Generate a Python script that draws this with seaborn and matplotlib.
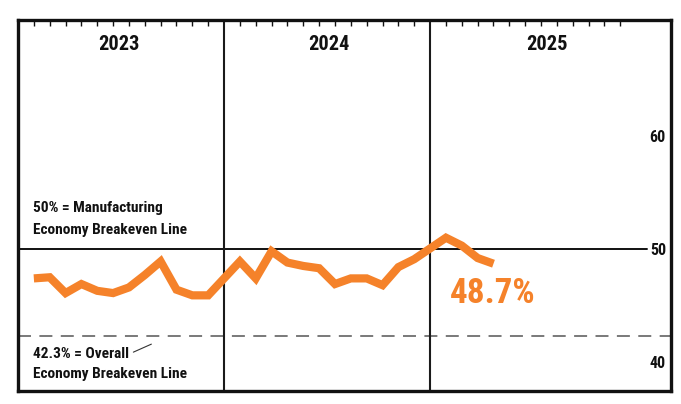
import matplotlib
matplotlib.use("Agg")
import matplotlib.pyplot as plt
from matplotlib import font_manager
from matplotlib.font_manager import FontProperties
from matplotlib.textpath import TextPath
import seaborn as sns
import pandas as pd

# ---------------- data ----------------
years = ["2023", "2024", "2025"]
months_2023 = [47.4, 47.5, 46.1, 46.9, 46.3, 46.1, 46.6, 47.7, 48.9, 46.4, 45.9, 45.9]
months_2024 = [48.9, 47.4, 49.8, 48.8, 48.5, 48.3, 46.9, 47.4, 47.4, 46.8, 48.4, 49.1]
months_2025 = [51.0, 50.3, 49.2, 48.7]
yticks = [40, 50, 60]
mfg_breakeven = 50.0
overall_breakeven = 42.3
mfg_label = ["50% = Manufacturing", "Economy Breakeven Line"]
overall_label = ["42.3% = Overall", "Economy Breakeven Line"]

ORANGE = "#F5822A"
INK = "#111111"

# ---------------- fonts ----------------
sns.set_theme(style="white")
entries = font_manager.fontManager.ttflist


def wnum(w):
    if isinstance(w, (int, float)):
        return w
    return {"bold": 700, "heavy": 800, "black": 900, "extra bold": 800,
            "semibold": 600, "demibold": 600}.get(str(w).lower(), 400)


prefs = ["Roboto Condensed", "Archivo Narrow", "IBM Plex Sans Condensed", "PT Sans Narrow",
         "Fira Sans Condensed", "Barlow Semi Condensed", "Liberation Sans Narrow",
         "Encode Sans Condensed", "Asap Condensed", "Liberation Sans"]
chosen = "DejaVu Sans"
for cand in prefs:
    if any(f.name == cand and wnum(f.weight) >= 600 for f in entries):
        chosen = cand
        break
FAM = [chosen, "DejaVu Sans"]
FONT = dict(family=FAM, weight="bold")
plt.rcParams["font.family"] = FAM

try:
    _tp = TextPath((0, 0), "H", size=100, prop=FontProperties(family=FAM, weight="bold"))
    CAP = _tp.get_extents().height / 100.0
except Exception:
    CAP = 0.72
if not (0.5 < CAP < 0.9):
    CAP = 0.72

# ---------------- build table ----------------
# each year occupies 13 slots: 12 months + a divider slot
rows = []
for yi, (yr, vals) in enumerate(zip(years, [months_2023, months_2024, months_2025])):
    for m, v in enumerate(vals, start=1):
        rows.append({"x": 13 * yi + m, "pmi": v, "year": yr, "month": m})
df = pd.DataFrame(rows)

fig = plt.figure(figsize=(6.81, 4.04), dpi=100)
ax = fig.add_axes([18 / 681, 13.3 / 404, 652.7 / 681, 370.7 / 404])
ax.set_facecolor("white")
renderer = fig.canvas.get_renderer()


def fit(t, target_w_px, target_cap_px):
    w = t.get_window_extent(renderer).width
    fs_w = t.get_fontsize() * target_w_px / w if w > 0 else t.get_fontsize()
    fs_h = target_cap_px / (CAP * 100.0 / 72.0)
    fs = (fs_w * fs_h) ** 0.5
    t.set_fontsize(fs)
    return fs


xmax = 41.18
ax.set_xlim(0, xmax)
ax.set_ylim(37.46, 70.27)

# breakeven lines
ax.axhline(mfg_breakeven, xmin=0, xmax=0.963, color=INK, lw=1.4, zorder=1)
ax.axhline(overall_breakeven, color="#555555", lw=1.1, ls=(0, (8.5, 5.5)), zorder=1)

# year dividers
for yi in range(1, len(years)):
    ax.axvline(13 * yi, color="#1a1a1a", lw=1.5, zorder=1)

# main line
sns.lineplot(data=df, x="x", y="pmi", ax=ax, color=ORANGE, lw=5.9, zorder=3,
             legend=False)
for ln in ax.get_lines()[-1:]:
    ln.set_solid_joinstyle("miter")
    ln.set_solid_capstyle("butt")

# last value label
last = df.iloc[-1]
t_last = ax.text(last["x"] - 2.75, last["pmi"] - 3.5, f"{last['pmi']:.1f}%", color=ORANGE,
                 fontsize=26, ha="left", va="baseline", **FONT)
fit(t_last, 79, 27)

# year labels
year_centers = [6.35, 19.6, 33.4]
ytexts = []
for yr, cx in zip(years, year_centers):
    ytexts.append(ax.text(cx, 68.1, yr, ha="center", va="center", fontsize=15, color=INK, **FONT))
yfs = fit(ytexts[0], 40, 15)
for t in ytexts:
    t.set_fontsize(yfs)

# annotations
a1 = ax.text(0.95, 53.26, mfg_label[0], ha="left", va="baseline", fontsize=11.5, color=INK, **FONT)
a2 = ax.text(0.95, 51.35, mfg_label[1], ha="left", va="baseline", fontsize=11.5, color=INK, **FONT)
a3 = ax.text(0.97, 40.37, overall_label[0], ha="left", va="baseline", fontsize=11.5, color=INK, **FONT)
a4 = ax.text(0.97, 38.6, overall_label[1], ha="left", va="baseline", fontsize=11.5, color=INK, **FONT)
afs = fit(a2, 145, 11.7)
for t in (a1, a3, a4):
    t.set_fontsize(afs)

# short leader line after "Overall" (placed relative to the text's end)
bb = a3.get_window_extent(renderer)
inv = ax.transData.inverted()
x0, y0 = inv.transform((bb.x1 + 4, bb.y0 + 0.62 * bb.height))
x1, y1 = inv.transform((bb.x1 + 22, bb.y0 + 0.62 * bb.height + 8))
ax.plot([x0, x1], [y0, y1], color="#333333", lw=0.8, zorder=2)

# top month ticks
month_pos = [13 * yi + m for yi in range(len(years)) for m in range(1, 13)]
ax.xaxis.tick_top()
ax.set_xticks(month_pos)
ax.set_xticklabels([])
ax.tick_params(axis="x", which="major", direction="in", length=4.5, width=1.0,
               color=INK, top=True, bottom=False)

# y ticks inside on the right
probe = fig.text(0, 0, "40", fontsize=12.5, **FONT)
tfs = fit(probe, 14.7, 12.7)
probe.remove()
ax.yaxis.tick_right()
ax.set_yticks(yticks)
ax.set_yticklabels([str(t) for t in yticks])
ax.tick_params(axis="y", length=0, pad=-3.4, labelsize=tfs, labelcolor=INK)
for lbl in ax.get_yticklabels():
    lbl.set_ha("right")
    lbl.set_fontweight("bold")
    lbl.set_family(FAM)

ax.set_xlabel("")
ax.set_ylabel("")
for s in ax.spines.values():
    s.set_visible(True)
    s.set_color(INK)
    s.set_linewidth(2.4)

fig.savefig("out.png", dpi=100, facecolor="white")
